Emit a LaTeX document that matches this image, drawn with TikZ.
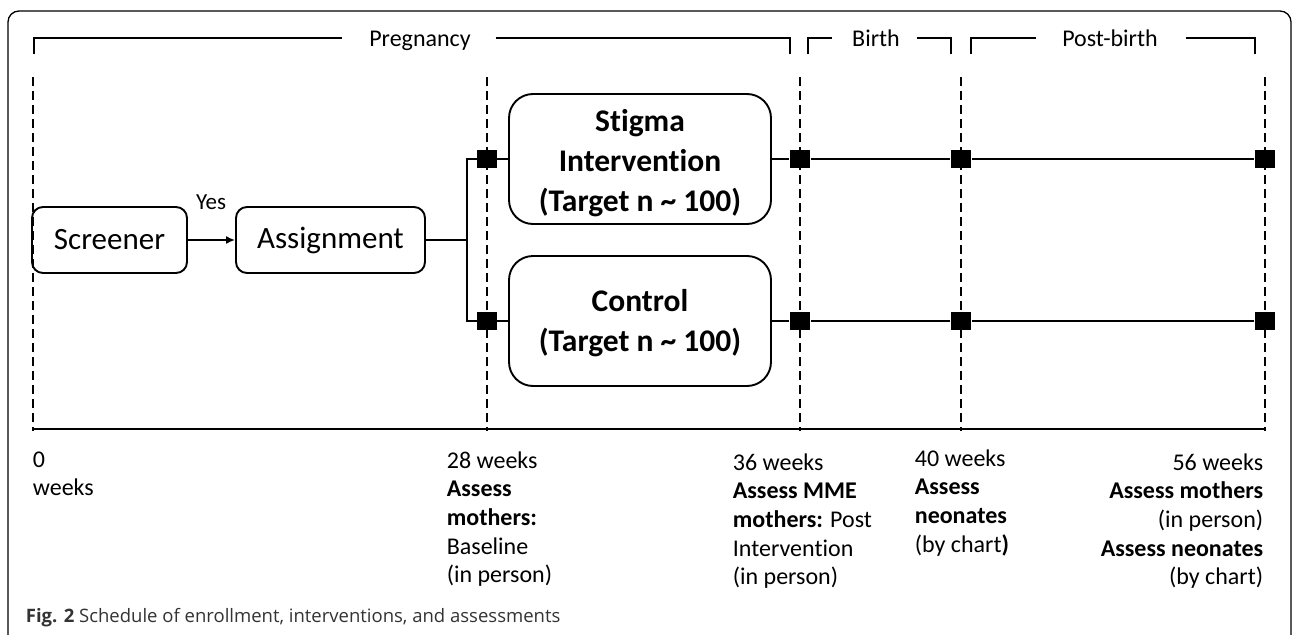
\documentclass[tikz,border=0pt]{standalone}
\usepackage{fontspec}
\setmainfont{Carlito}[Ligatures={NoCommon,NoContextual}]
\newfontfamily\capfont{Open Sans}
\usetikzlibrary{arrows.meta}
\begin{document}
\begin{tikzpicture}[x=1pt,y=-1pt, line width=1.7pt,
  box/.style={draw, rounded corners=11pt, line width=1.9pt, inner sep=0, font=\fontsize{31}{36}\selectfont},
  bigbox/.style={draw, rounded corners=24pt, line width=1.9pt, minimum width=262pt, minimum height=130pt, inner sep=0, align=center, font=\fontsize{31.5}{40}\selectfont\bfseries},
  sq/.style={fill=black, minimum width=20pt, minimum height=18pt, inner sep=0},
  tl/.style={dash pattern=on 9pt off 5pt, line width=1.5pt},
  lab/.style={font=\fontsize{24}{28.7}\selectfont, inner sep=0},
  toplab/.style={font=\fontsize{24}{28}\selectfont, inner sep=0, anchor=base},
]
\useasboundingbox (0,0) rectangle (1292,634);
% frame
\draw[line width=1.3pt, rounded corners=11pt] (8,660) -- (8,11) -- (1291,11) -- (1291,660);

% top phase brackets
\node[toplab] (preg) at (420,47) {Pregnancy};
\draw (34,54) |- ([xshift=-26pt]preg.west |- 0,38);
\draw ([xshift=24pt]preg.east |- 0,38) -| (790,54);
\node[toplab] (birth) at (876,47) {Birth};
\draw (808,54) |- ([xshift=-19pt]birth.west |- 0,38);
\draw ([xshift=16pt]birth.east |- 0,38) -| (951,54);
\node[toplab] (post) at (1110,47) {Post-birth};
\draw (971,54) |- ([xshift=-25pt]post.west |- 0,38);
\draw ([xshift=27pt]post.east |- 0,38) -| (1255,54);

% timeline dashed lines
\foreach \n/\x in {0/33,28/487,36/800,40/961,56/1265}{
  \coordinate (top\n) at (\x,77);
  \coordinate (bot\n) at (\x,431);
  \draw[tl] (top\n) -- (bot\n);
}
\coordinate (axL) at (33,429);
\coordinate (axR) at (1265,429);
\draw[line width=1.9pt] (axL) -- (axR);

% boxes
\node[box, minimum width=155pt, minimum height=66pt] (screener) at (109.5,240) {Screener};
\node[box, minimum width=189pt, minimum height=66pt] (assign) at (330.5,240) {Assignment};
\draw[-{Latex[length=9pt,width=8pt]}] (screener) -- (assign);
\node[font=\fontsize{23}{26}\selectfont, inner sep=0, anchor=base] (yes) at (211,209) {Yes};

\node[bigbox] (stigma) at (640,159) {\raisebox{-4pt}[\height][\depth]{\begin{tabular}{@{}c@{}}Stigma\\Intervention\\(Target n \textasciitilde{} 100)\end{tabular}}};
\node[bigbox] (control) at (640,321) {\raisebox{-2pt}[\height][\depth]{\begin{tabular}{@{}c@{}}Control\\(Target n \textasciitilde{} 100)\end{tabular}}};

% branch
\coordinate (br) at (467,240);
\draw (assign.east) -- (br);
\draw (br) |- (stigma.west);
\draw (br) |- (control.west);

% assessment markers
\foreach \n/\x in {28/487,36/800,40/961,56/1265}{
  \node[sq] (a\n) at (\x,159) {};
  \node[sq] (b\n) at (\x,321) {};
}
\draw (stigma.east) -- (a36) -- (a40) -- (a56);
\draw (control.east) -- (b36) -- (b40) -- (b56);

% bottom labels
\node[lab, anchor=base west] (l0) at (32,467) {\begin{tabular}[t]{@{}l@{}}0\\weeks\end{tabular}};
\node[lab, anchor=base west] (l28) at (446,468) {\begin{tabular}[t]{@{}l@{}}28 weeks\\\textbf{Assess}\\\textbf{mothers:}\\Baseline\\(in person)\end{tabular}};
\node[lab, anchor=base west] (l36) at (732,470) {\begin{tabular}[t]{@{}l@{}}36 weeks\\\textbf{Assess MME}\\\textbf{mothers:} Post\\Intervention\\(in person)\end{tabular}};
\node[lab, anchor=base west] (l40) at (914,466) {\begin{tabular}[t]{@{}l@{}}40 weeks\\\textbf{Assess}\\\textbf{neonates}\\(by chart\textbf{)}\end{tabular}};
\node[lab, anchor=base east] (l56) at (1264,470) {\begin{tabular}[t]{@{}r@{}}56 weeks\\\textbf{Assess mothers}\\(in person)\\\textbf{Assess neonates}\\(by chart)\end{tabular}};

% caption
\node[anchor=base west, inner sep=0, text=black!80, font=\capfont\fontsize{18.5}{21}\selectfont] (cap) at (25,622) {\textbf{Fig. 2} Schedule of enrollment, interventions, and assessments};
\end{tikzpicture}
\end{document}
